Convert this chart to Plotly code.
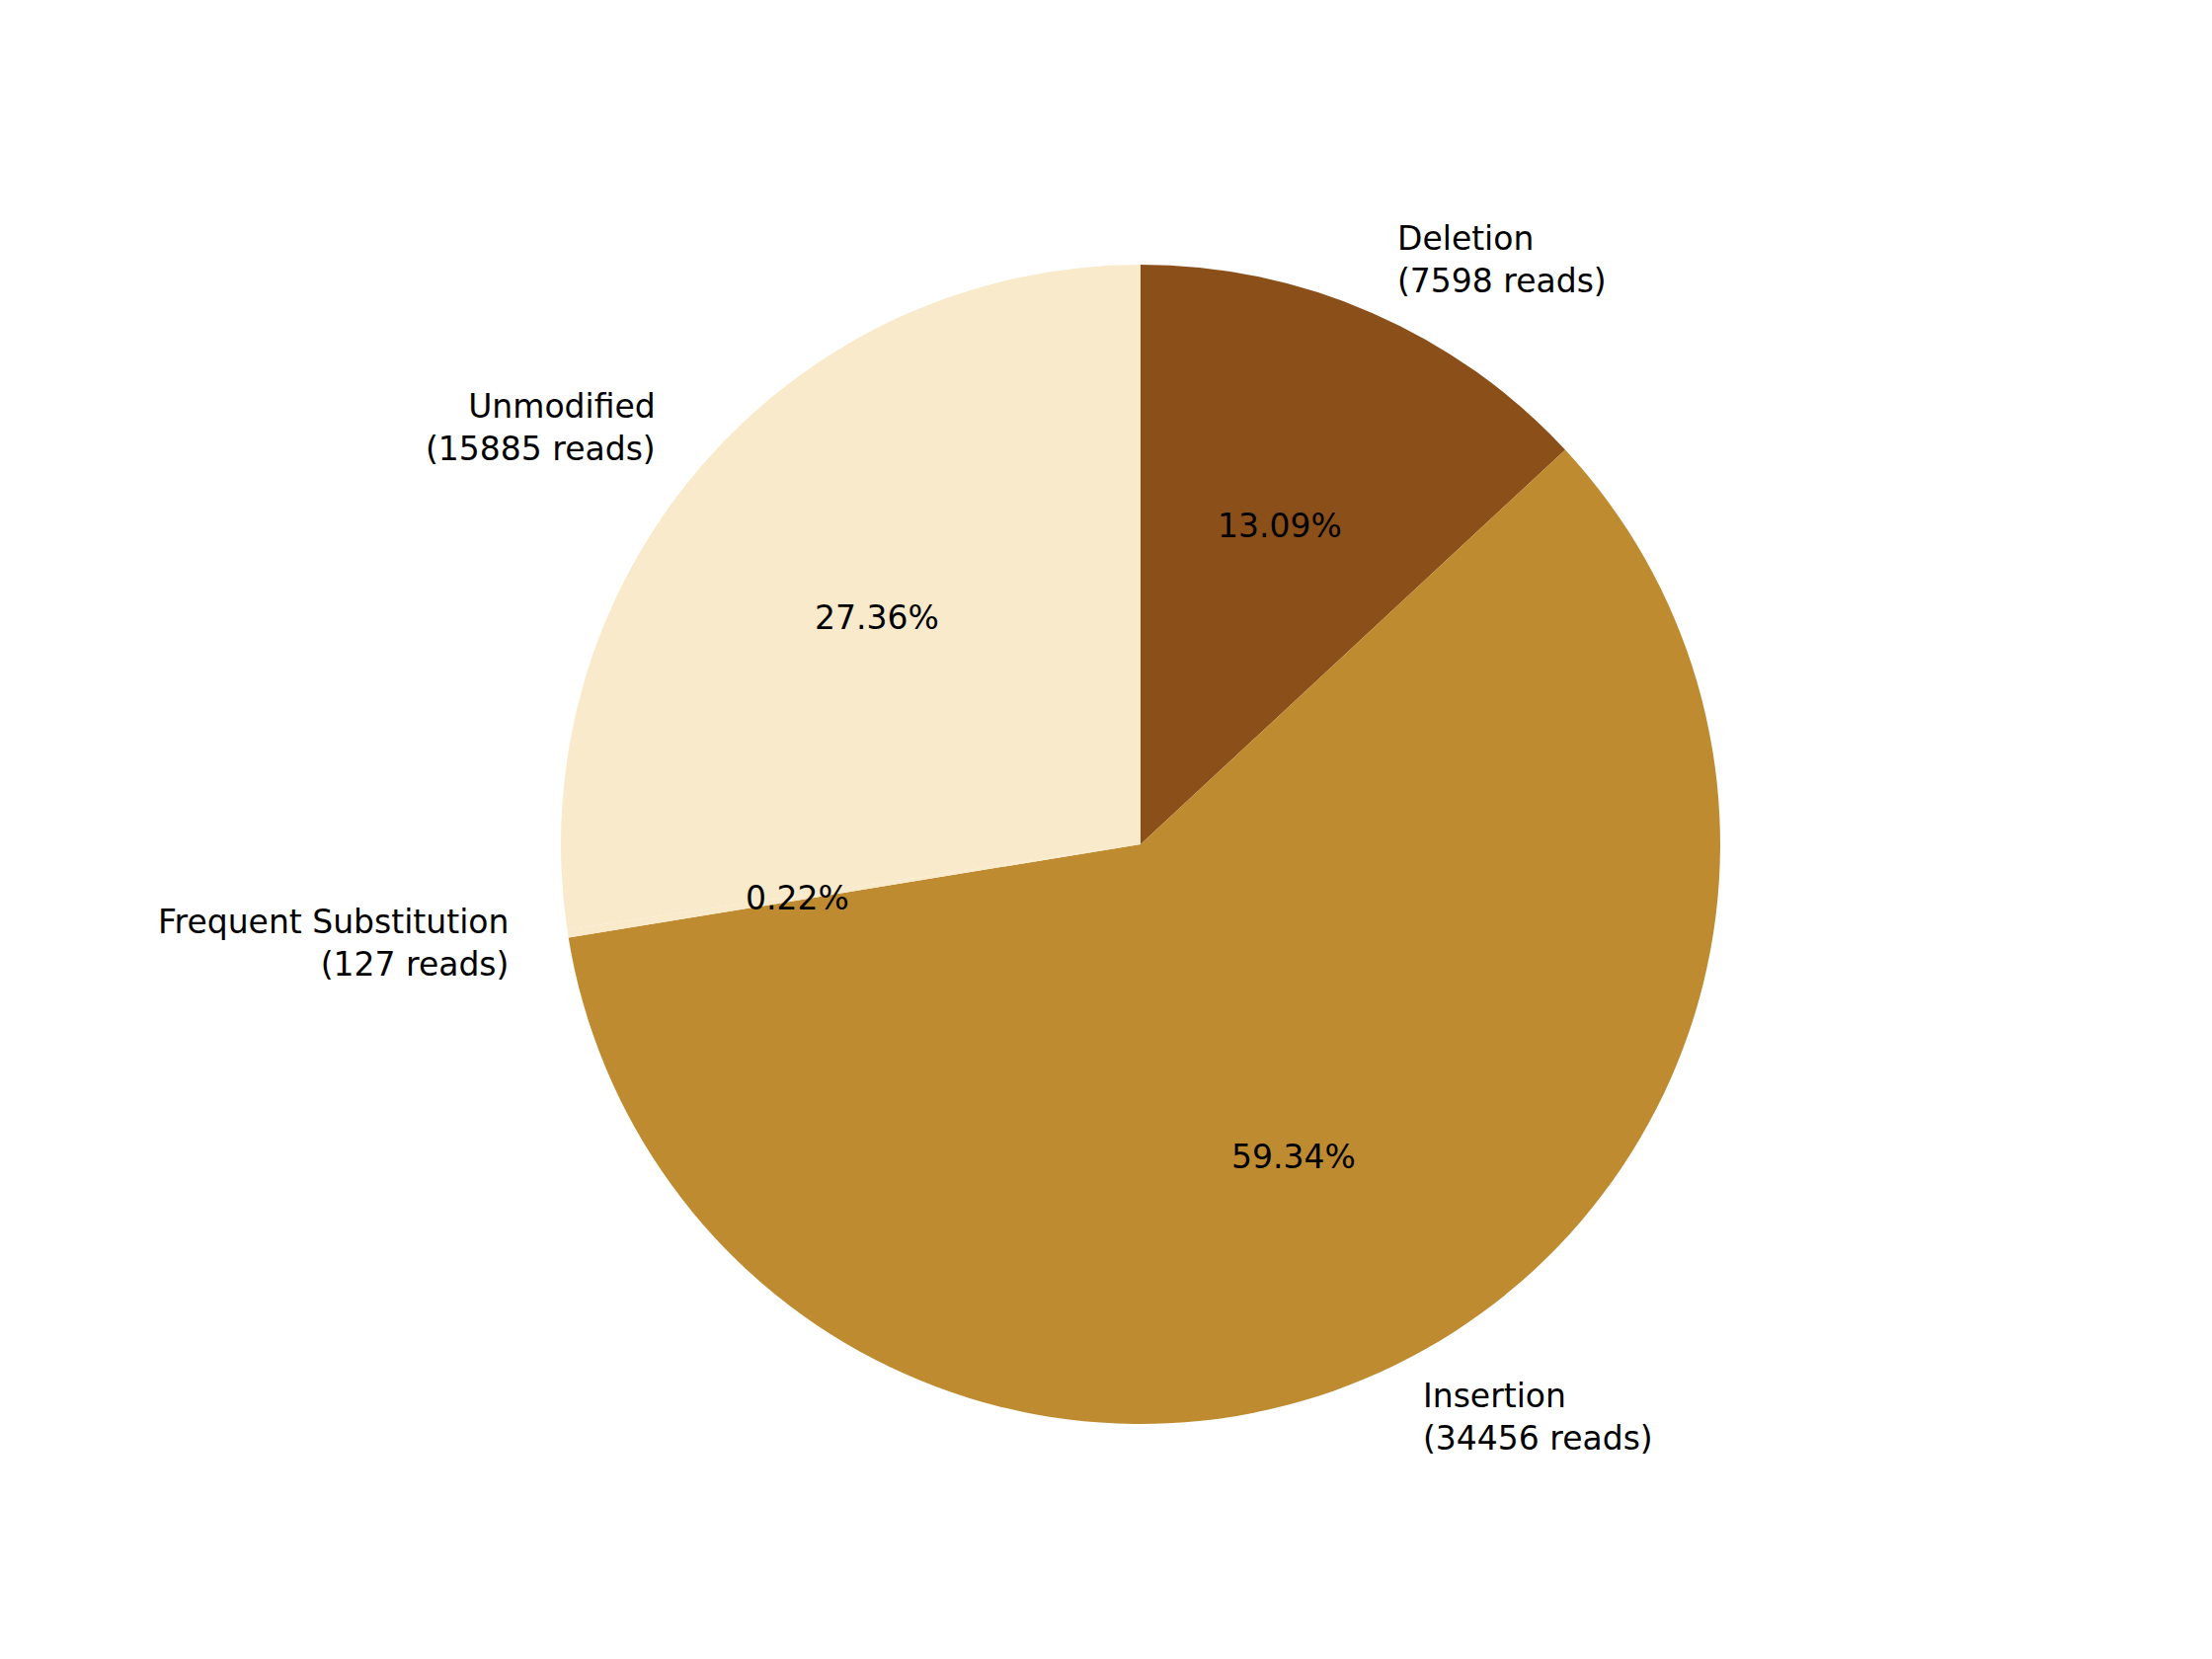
import math
import plotly.graph_objects as go

labels = ["Deletion", "Insertion", "Frequent Substitution", "Unmodified"]
reads = [7598, 34456, 127, 15885]
colors = ["#8B4F1A", "#BF8B30", "#F8EACB", "#F8EACB"]

W, H = 2240, 1680
cx, cy, R = 1147, 847, 587
dom = dict(x=[(cx - R) / W, (cx + R) / W], y=[1 - (cy + R) / H, 1 - (cy - R) / H])
font = dict(family="DejaVu Sans", size=33, color="black")

fig = go.Figure(go.Pie(
    labels=labels, values=reads, sort=False, direction="clockwise", rotation=0,
    marker=dict(colors=colors, line=dict(width=0)), textinfo="none",
    domain=dom, showlegend=False, hoverinfo="skip",
))

total = sum(reads)
cum = 0
for lab, v in zip(labels, reads):
    ang = math.radians(90 - 360 * (cum + v / 2) / total)
    cum += v
    c, s = math.cos(ang), math.sin(ang)
    # percentage inside at 0.6 R
    fig.add_annotation(x=(cx + 0.6 * R * c) / W, y=1 - (cy - 0.6 * R * s) / H,
                       xref="paper", yref="paper", text=f"{100 * v / total:.2f}%",
                       showarrow=False, font=font, xanchor="center", yanchor="middle")
    # label outside at 1.1 R
    fig.add_annotation(x=(cx + 1.1 * R * c) / W, y=1 - (cy - 1.1 * R * s) / H,
                       xref="paper", yref="paper", text=f"{lab}<br>({v} reads)",
                       showarrow=False, font=font, align="left" if c > 0 else "right",
                       xanchor="left" if c > 0 else "right", yanchor="middle")

fig.update_layout(width=W, height=H, margin=dict(l=0, r=0, t=0, b=0),
                  paper_bgcolor="white", plot_bgcolor="white")
fig.write_html("out.html")
